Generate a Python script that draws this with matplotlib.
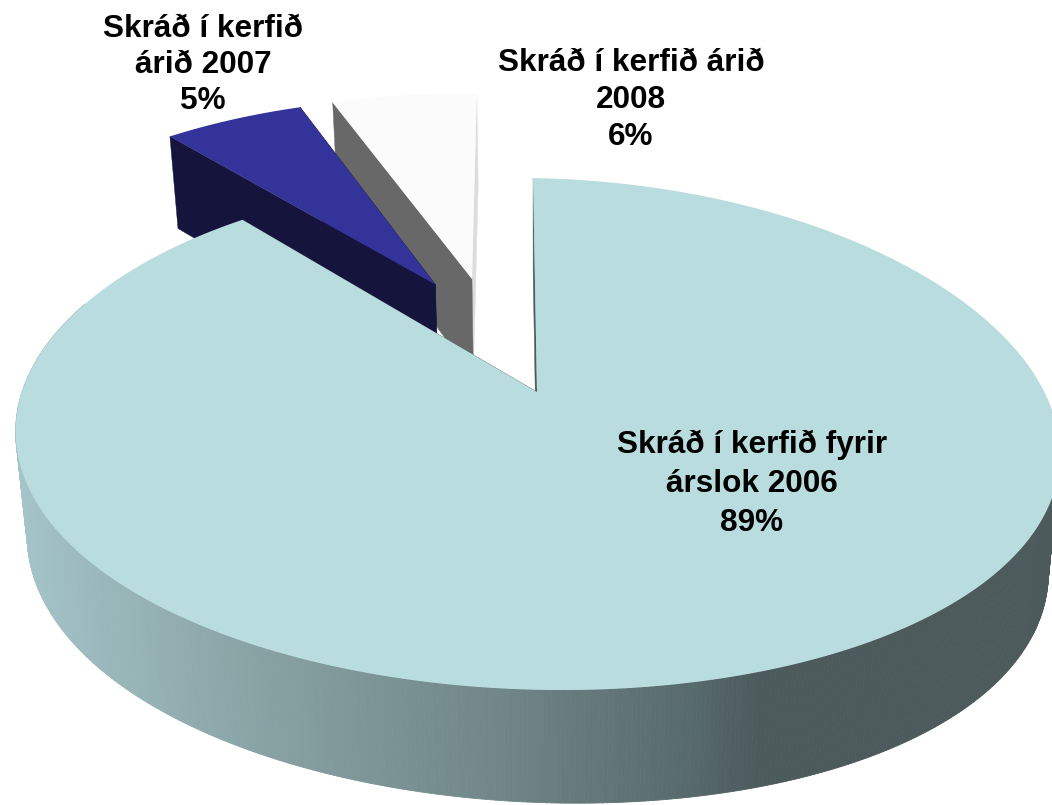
import numpy as np
import matplotlib
matplotlib.use('Agg')
import matplotlib.pyplot as plt
from matplotlib.collections import PolyCollection

plt.rcParams['font.family'] = ['Liberation Sans', 'DejaVu Sans']

# gogn
flokkar = ['Skráð í kerfið fyrir\nárslok 2006', 'Skráð í kerfið\nárið 2007', 'Skráð í kerfið árið\n2008']
gildi = [89, 5.4, 5.6]

# utlit
litir_topp = ['#b9dcde', '#333399', '#fbfbfb']
litir_vinstri = ['#4c5b5c', '#15143d', '#686868']
litir_haegri = ['#4c5b5c', '#15143d', '#dcdcdc']
tilfaersla = [(0.0, 0.0), (-0.208, 0.458), (-0.132, 0.486)]
texti_stadur = [(752, 484), (203, 65), (631, 100)]
linubil = [1.39, 1.28, 1.31]

# sjonarhorn
cx, cy = 537, 392
R, H, k = 515, 249, 0.164
halli = -4.6
snuningur, snuningur2 = 18, 32
dypt, H2, minnkun = 102, 258, 0.978


def vorpun(u, v, nedri=False):
    u = np.asarray(u, dtype=float)
    v = np.asarray(v, dtype=float)
    w = 1 + k * v
    hh = H2 if nedri else H
    sk = minnkun if nedri else 1.0
    sn = snuningur2 if nedri else snuningur
    x = cx + sk * (R * u + halli * v) / w
    y = cy + (dypt if nedri else 0) + (-hh * v + sn * (u + u * u) / 2) / w
    return np.column_stack([x, y])


def bogi(a, b, n=240):
    t = np.radians(np.linspace(a, b, n))
    return t, np.sin(t), np.cos(t)


fig = plt.figure(figsize=(10.52, 8.05), dpi=100)
ax = fig.add_axes([0, 0, 1, 1])
ax.set_xlim(0, 1052)
ax.set_ylim(805, 0)
ax.axis('off')

horn = np.cumsum([0] + gildi) / sum(gildi) * 360

for i in [2, 1, 0]:
    a, b = horn[i], horn[i + 1]
    du, dv = tilfaersla[i]
    t, su, cv = bogi(a, b, 720 if i == 0 else 80)
    uu, vv = su + du, cv + dv
    efri = vorpun(uu, vv)
    nedri = vorpun(uu, vv, True)
    odd_e = vorpun([du], [dv])
    odd_n = vorpun([du], [dv], True)
    zz = i * -3 + 7

    # skurdarfletir
    ax.fill([efri[-1, 0], odd_e[0, 0], odd_n[0, 0], nedri[-1, 0]],
            [efri[-1, 1], odd_e[0, 1], odd_n[0, 1], nedri[-1, 1]],
            color=litir_haegri[i], lw=0.3, zorder=zz)
    ax.fill([efri[0, 0], odd_e[0, 0], odd_n[0, 0], nedri[0, 0]],
            [efri[0, 1], odd_e[0, 1], odd_n[0, 1], nedri[0, 1]],
            color=litir_vinstri[i], lw=0.3, zorder=zz)

    # hlidin a adalsneidinni med litbrigdum eftir x
    if i == 0:
        sjaanlegt = np.where((np.degrees(t) > 97) & (np.degrees(t) < 292))[0]
        fletir = [np.vstack([efri[j], efri[j + 1], nedri[j + 1], nedri[j]]) for j in sjaanlegt[:-1]]
        xm = np.array([f[:, 0].mean() for f in fletir])
        xp = [15, 100, 300, 500, 700, 760, 1060]
        rr = [0xa6, 0x9a, 0x84, 0x70, 0x56, 0x4c, 0x4c]
        gg = [0xc5, 0xb8, 0x9d, 0x86, 0x68, 0x5a, 0x5a]
        bb = [0xc8, 0xbb, 0x9f, 0x88, 0x6a, 0x5b, 0x5b]
        lit = np.column_stack([np.interp(xm, xp, rr), np.interp(xm, xp, gg), np.interp(xm, xp, bb)]) / 255
        ax.add_collection(PolyCollection(fletir, facecolors=lit, edgecolors=lit, linewidths=0.6, zorder=8))

    # toppflotur
    toppur = np.vstack([odd_e, efri])
    ax.fill(toppur[:, 0], toppur[:, 1], color=litir_topp[i], lw=0, zorder=i * -3 + 9)

for nafn, g, (tx, ty), ls in zip(flokkar, gildi, texti_stadur, linubil):
    ax.text(tx, ty, nafn + '\n' + f'{g:.0f}%', ha='center', va='center', fontsize=22.7,
            fontweight='bold', color='black', linespacing=ls, zorder=20)

fig.savefig('out.png', dpi=100)
